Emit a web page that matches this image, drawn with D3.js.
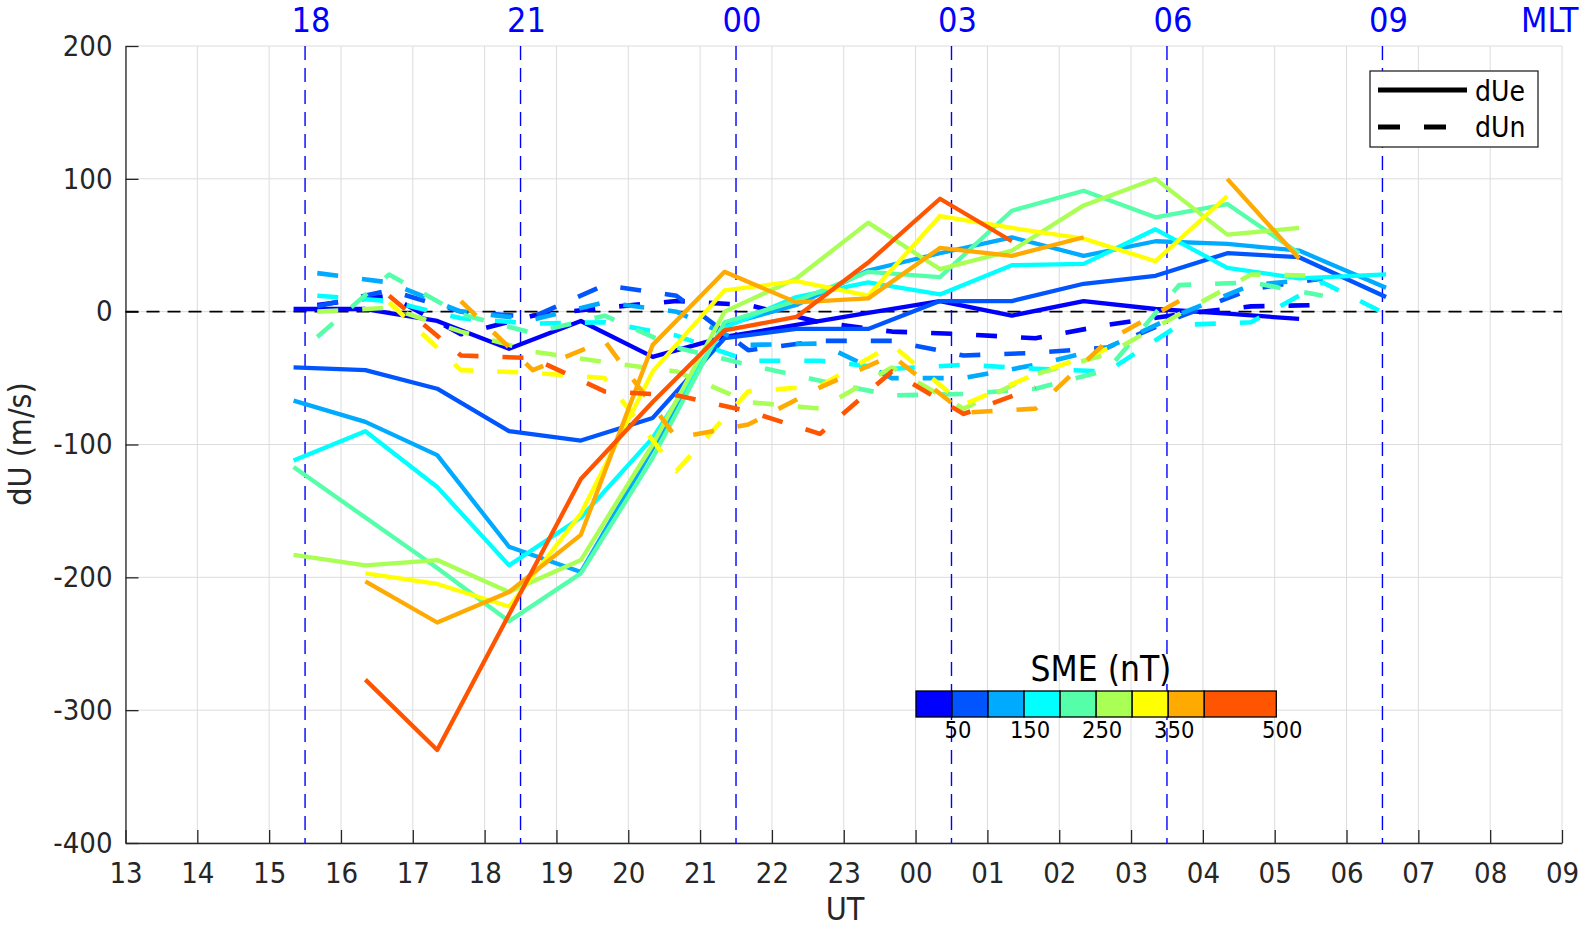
<!DOCTYPE html>
<html><head><meta charset="utf-8">
<script src="https://cdn.jsdelivr.net/npm/d3@7"></script>
<style>
body{margin:0;background:#fff}
svg{display:block}
text{font-family:"DejaVu Sans Condensed","DejaVu Sans",sans-serif;font-stretch:condensed;fill:#262626}
</style>
</head><body>
<svg id="chart" width="1593" height="928"></svg>
<script>
// ---------- data ----------
const utE = [15.34,16.34,17.34,18.34,19.34,20.34,21.34,22.34,23.34,24.34,25.34,26.34,27.34,28.34,29.34,30.55];
const utN = [15.67,16.67,17.67,18.67,19.67,20.67,21.67,22.67,23.67,24.67,25.67,26.67,27.67,28.67,29.67,30.67];

const binColors = ["#0000FF","#0055FF","#00AAFF","#00FFFF","#55FFAA","#AAFF55","#FFFF00","#FFAA00","#FF5500"];
const cbEdges = [0,50,100,150,200,250,300,350,400,500];
const cbTicks = [50,150,250,350,500];

const dUe1 = [2,2,-7,-28,-7,-34,-19,-10,-1,8,-3,8,2,-1.5,-5.5,null];
const dUe2 = [-42,-44,-58,-90,-97,-80,-20,-13,-13,8,8,21,27,44,41,11];
const dUe3 = [-67,-83,-108,-177,-196,-103,-10,5,31,44,56,42,53,51,46,18];
const dUe4 = [-112,-90,-132,-191,-155,-95,-12,11,22,13,35,36,62,33,25,28];
const dUe5 = [-117,-155,-193,-233,-197,-110,-8,8,30,26,76,91,71,81,44,null];
const dUe6 = [-183,-191,-187,-211,-187,-100,0,25,67,32,46,80,100,58,63,null];
const dUe7 = [null,-197,-205,-222,-152,-45,16,23,12,72,63,55,38,87,null,null];
const dUe8 = [null,-203,-234,-211,-168,-25,30,7,10,48,42,56,null,100,40,null];
const dUe9 = [null,-277,-330,-228,-126,-68,-14,-4,37,85,53,null,null,null,null,null];

const dUn1 = [5,12,-17,-3,3,8,5,-8,-15,-17,-20,-10,-2,4,5,null];
const dUn2 = [4,16,0,-4,20,12,-29,-22,-22,-33,-31,-27,-4,17,25,null];
const dUn3 = [29,22,0,-6,7,0,-25,-24,-50,-50,-40,-27,-2,20,25,null];
const dUn4 = [12,8,-5,-9,-8,-18,-37,-37,-43,-40,-43,-45,-10,-8,22,-5];
const dUn5 = [-19,28,-2,-16,-3,-27,-40,-52,-63,-62,-58,-44,20,22,12,null];
const dUn6 = [0,3,-15,-30,-38,-45,-68,-73,-42,-73,-47,-32,-2,28,27,null];
const dUn7 = [null,7,-44,-46,-50,-120,-60,-56,-25,-70,-47,-28,null,null,null,null];
const dUn8 = [null,null,8,-44,-22,-95,-85,-57,-33,-76,-73,-22,8,null,null,null];
const dUn9 = [null,12,-33,-35,-60,-63,-75,-92,-45,-77,-57,null,null,null,null,null];

const xTicks = d3.range(13,34);
const yTicks = [-400,-300,-200,-100,0,100,200];
const mltUT = [15.5,18.5,21.5,24.5,27.5,30.5];
const mltLabels = ["18","21","00","03","06","09"];

const dUeAll = [dUe1,dUe2,dUe3,dUe4,dUe5,dUe6,dUe7,dUe8,dUe9];
const dUnAll = [dUn1,dUn2,dUn3,dUn4,dUn5,dUn6,dUn7,dUn8,dUn9];

// ---------- layout ----------
const svg = d3.select("#chart");
const L = 125.5, R = 1562, T = 46, B = 843;
const x = d3.scaleLinear().domain([13,33]).range([L,R]);
const y = d3.scaleLinear().domain([-400,200]).range([B,T]);

// grid
const grid = svg.append("g");
grid.selectAll("line.gx").data(xTicks).join("line")
  .attr("x1",d=>x(d)).attr("x2",d=>x(d)).attr("y1",T).attr("y2",B)
  .attr("stroke","#dcdcdc").attr("stroke-width",1);
grid.selectAll("line.gy").data(yTicks).join("line")
  .attr("x1",L).attr("x2",R).attr("y1",d=>y(d)).attr("y2",d=>y(d))
  .attr("stroke","#dcdcdc").attr("stroke-width",1);

// axes
const fmt = d => String(d % 24).padStart(2,"0");
const gx = svg.append("g").attr("transform",`translate(0,${B})`)
  .call(d3.axisBottom(x).tickValues(xTicks).tickFormat(fmt).tickSizeInner(-13).tickSizeOuter(0).tickPadding(19));
const gy = svg.append("g").attr("transform",`translate(${L},0)`)
  .call(d3.axisLeft(y).tickValues(yTicks).tickFormat(d=>String(d)).tickSizeInner(-13).tickSizeOuter(0).tickPadding(13));
[gx,gy].forEach(g=>{
  g.select(".domain").attr("stroke","#262626").attr("stroke-width",1.3);
  g.selectAll(".tick line").attr("stroke","#262626").attr("stroke-width",1.3);
  g.selectAll(".tick text").attr("font-size",29).attr("fill","#262626")
   .style("font-family",'"DejaVu Sans Condensed","DejaVu Sans",sans-serif');
});

// zero line
svg.append("line").attr("x1",L).attr("x2",R).attr("y1",y(0)).attr("y2",y(0))
  .attr("stroke","#000").attr("stroke-width",1.6).attr("stroke-dasharray","13,8");

// MLT lines
svg.append("g").selectAll("line").data(mltUT).join("line")
  .attr("x1",d=>x(d)).attr("x2",d=>x(d)).attr("y1",T).attr("y2",B)
  .attr("stroke","#0000FF").attr("stroke-width",1.4).attr("stroke-dasharray","14,8");
svg.append("g").selectAll("text").data(mltUT).join("text")
  .attr("x",d=>x(d)+6).attr("y",32).attr("text-anchor","middle")
  .attr("font-size",34).style("fill","#0000FF").text((d,i)=>mltLabels[i]);
svg.append("text").attr("x",1521).attr("y",32).attr("font-size",34)
  .style("fill","#0000FF").text("MLT");

// data lines
const line = d3.line().defined(d=>d[1]!==null).x(d=>x(d[0])).y(d=>y(d[1]));
const gl = svg.append("g").attr("fill","none").attr("stroke-linejoin","round");
binColors.forEach((c,i)=>{
  gl.append("path").datum(utE.map((u,k)=>[u,dUeAll[i][k]]))
    .attr("d",line).attr("stroke",c).attr("stroke-width",4.3);
  gl.append("path").datum(utN.map((u,k)=>[u,dUnAll[i][k]]))
    .attr("d",line).attr("stroke",c).attr("stroke-width",4.6).attr("stroke-dasharray","21,24");
});

// legend
const lg = svg.append("g");
lg.append("rect").attr("x",1370).attr("y",71).attr("width",168).attr("height",76)
  .attr("fill","#fff").attr("stroke","#262626").attr("stroke-width",1.3);
lg.append("line").attr("x1",1378).attr("x2",1467).attr("y1",90).attr("y2",90)
  .attr("stroke","#000").attr("stroke-width",5);
lg.append("line").attr("x1",1378).attr("x2",1467).attr("y1",127).attr("y2",127)
  .attr("stroke","#000").attr("stroke-width",5).attr("stroke-dasharray","22,24");
lg.append("text").attr("x",1475).attr("y",101).attr("font-size",28).style("fill","#000").text("dUe");
lg.append("text").attr("x",1475).attr("y",137).attr("font-size",28).style("fill","#000").text("dUn");

// colorbar
const cbx = d3.scaleLinear().domain([0,500]).range([916,1276.3]);
const cb = svg.append("g");
cb.selectAll("rect").data(d3.range(cbEdges.length-1)).join("rect")
  .attr("x",i=>cbx(cbEdges[i])).attr("width",i=>cbx(cbEdges[i+1])-cbx(cbEdges[i]))
  .attr("y",691).attr("height",26).attr("fill",i=>binColors[i])
  .attr("stroke","#000").attr("stroke-width",1.3);
cb.selectAll("text.t").data(cbTicks).join("text")
  .attr("x",d=>cbx(d)+6).attr("y",738).attr("text-anchor","middle")
  .attr("font-size",23.5).style("fill","#000").text(d=>d);
cb.append("text").attr("x",1101).attr("y",681).attr("text-anchor","middle")
  .attr("font-size",35).style("fill","#000").text("SME (nT)");

// axis labels
svg.append("text").attr("x",845).attr("y",920).attr("text-anchor","middle")
  .attr("font-size",32).text("UT");
svg.append("text").attr("transform","translate(31,444) rotate(-90)").attr("text-anchor","middle")
  .attr("font-size",32).text("dU (m/s)");
</script>
</body></html>
